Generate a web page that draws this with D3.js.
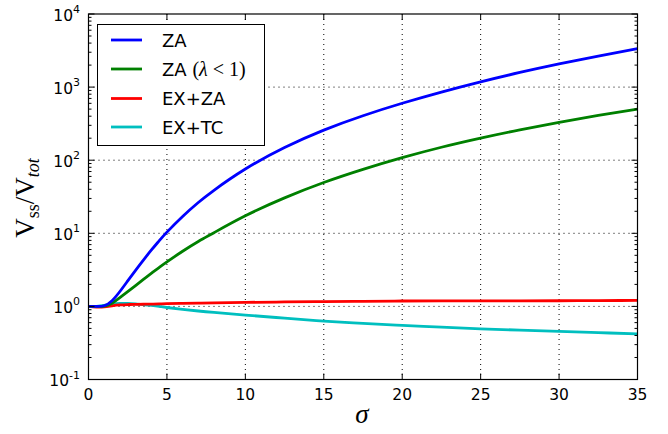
<!DOCTYPE html>
<html>
<head>
<meta charset="utf-8">
<script src="https://cdn.jsdelivr.net/npm/d3@7"></script>
<style>
  html, body { margin: 0; padding: 0; background: #fff; }
  svg { display: block; }
</style>
</head>
<body>
<svg id="chart" width="668" height="434" font-family="DejaVu Sans, sans-serif"></svg>
<script>
// sigma sample points and the volume ratio for each model
const sigma  = [0, 0.5, 1, 1.5, 2, 2.5, 3, 3.5, 4, 4.5, 5, 6, 7, 8, 10, 12.5, 15, 17.5, 20, 22.5, 25, 27.5, 30, 32.5, 35];
const za     = [1, 1, 1.02, 1.198, 1.598, 2.232, 3.117, 4.30, 5.87, 7.87, 10.38, 17.0, 26.4, 38.8, 75.7, 149, 258, 406, 601, 855, 1180, 1585, 2075, 2660, 3350];
const zaLam  = [1, 1, 1.01, 1.107, 1.315, 1.591, 1.93, 2.339, 2.825, 3.396, 4.06, 5.68, 7.72, 10.2, 17.36, 30.5, 49.5, 74.9, 108.3, 150.3, 200.4, 259.8, 328.9, 409.3, 500.6];
const exZa   = [1, 0.98, 0.985, 1.02, 1.05, 1.06, 1.065, 1.07, 1.075, 1.08, 1.09, 1.10, 1.11, 1.12, 1.135, 1.15, 1.165, 1.175, 1.185, 1.19, 1.19, 1.19, 1.195, 1.2, 1.21];
const exTc   = [1, 1, 1.03, 1.08, 1.1, 1.1, 1.08, 1.055, 1.03, 1.0, 0.966, 0.912, 0.865, 0.826, 0.762, 0.69, 0.63, 0.586, 0.55, 0.519, 0.494, 0.473, 0.454, 0.437, 0.422];

const seriesNames = ["ZA", "ZA (λ<1)", "EX+ZA", "EX+TC"];
const seriesColors = ["#0000ff", "#008000", "#ff0000", "#00bfbf"];
const seriesValues = [za, zaLam, exZa, exTc];

const xTicks = [0, 5, 10, 15, 20, 25, 30, 35];
const yExponents = [-1, 0, 1, 2, 3, 4];

const svg = d3.select("#chart");
const pL = 88.5, pR = 637.5, pT = 14, pB = 379.5;
const serif = "Liberation Serif, DejaVu Serif, serif";

const x = d3.scaleLinear().domain([0, 35]).range([pL, pR]);
const y = d3.scaleLog().domain([0.1, 1e4]).range([pB, pT]);

// dotted grid
const grid = svg.append("g").attr("stroke", "#000").attr("stroke-width", 1)
  .attr("stroke-dasharray", "1,4");
xTicks.slice(1, -1).forEach(t => {
  grid.append("line").attr("x1", x(t)).attr("x2", x(t)).attr("y1", pT).attr("y2", pB);
});
yExponents.slice(1, -1).forEach(e => {
  grid.append("line").attr("x1", pL).attr("x2", pR).attr("y1", y(10 ** e)).attr("y2", y(10 ** e));
});

// curves
svg.append("clipPath").attr("id", "clip")
  .append("rect").attr("x", pL).attr("y", pT).attr("width", pR - pL).attr("height", pB - pT);
const plot = svg.append("g").attr("clip-path", "url(#clip)");
const line = d3.line().x(d => x(d[0])).y(d => y(d[1])).curve(d3.curveNatural);
// draw in reverse order so ZA ends on top
[3, 2, 1, 0].forEach(i => {
  plot.append("path")
    .datum(sigma.map((s, k) => [s, seriesValues[i][k]]))
    .attr("d", line)
    .attr("fill", "none")
    .attr("stroke", seriesColors[i])
    .attr("stroke-width", 2.8)
    .attr("stroke-linejoin", "round");
});

// frame
svg.append("rect").attr("x", pL).attr("y", pT).attr("width", pR - pL).attr("height", pB - pT)
  .attr("fill", "none").attr("stroke", "#000").attr("stroke-width", 1.2);

// ticks (inward on all sides)
const ticks = svg.append("g").attr("stroke", "#000").attr("stroke-width", 1);
xTicks.forEach(t => {
  ticks.append("line").attr("x1", x(t)).attr("x2", x(t)).attr("y1", pB).attr("y2", pB - 6);
  ticks.append("line").attr("x1", x(t)).attr("x2", x(t)).attr("y1", pT).attr("y2", pT + 6);
});
yExponents.forEach((e, idx) => {
  const v = 10 ** e;
  ticks.append("line").attr("x1", pL).attr("x2", pL + 6).attr("y1", y(v)).attr("y2", y(v));
  ticks.append("line").attr("x1", pR).attr("x2", pR - 6).attr("y1", y(v)).attr("y2", y(v));
  if (idx < yExponents.length - 1) {
    for (let m = 2; m <= 9; m++) {
      const yy = y(m * v);
      ticks.append("line").attr("x1", pL).attr("x2", pL + 3).attr("y1", yy).attr("y2", yy);
      ticks.append("line").attr("x1", pR).attr("x2", pR - 3).attr("y1", yy).attr("y2", yy);
    }
  }
});

// tick labels
xTicks.forEach(t => {
  svg.append("text").attr("x", x(t)).attr("y", pB + 20)
    .attr("text-anchor", "middle").attr("font-size", 15.5).attr("fill", "#000").text(t);
});
yExponents.forEach(e => {
  const t = svg.append("text").attr("x", 80).attr("y", y(10 ** e) + 6.5)
    .attr("text-anchor", "end").attr("font-size", 15.5).attr("fill", "#000");
  t.append("tspan").text("10");
  t.append("tspan").attr("dy", -7.5).attr("font-size", 11).text(e);
});

// axis labels
svg.append("text").attr("x", 362).attr("y", 423).attr("text-anchor", "middle")
  .attr("font-family", serif).attr("font-style", "italic").attr("font-size", 27)
  .attr("fill", "#000").text("σ");

const yl = svg.append("text")
  .attr("transform", "translate(34,198) rotate(-90)")
  .attr("text-anchor", "middle")
  .attr("font-family", serif).attr("font-size", 27).attr("fill", "#000");
yl.append("tspan").text("V");
yl.append("tspan").attr("dy", 5).attr("font-size", 18).text("ss");
yl.append("tspan").attr("dy", -5).text("/V");
yl.append("tspan").attr("dy", 5).attr("font-size", 18).attr("font-style", "italic").text("tot");

// legend
const lg = svg.append("g");
lg.append("rect").attr("x", 97.5).attr("y", 24.5).attr("width", 167).attr("height", 121)
  .attr("fill", "#fff").attr("stroke", "#000").attr("stroke-width", 1);
const rowY = [40, 69, 98.5, 127];
seriesNames.forEach((name, i) => {
  lg.append("line").attr("x1", 111).attr("x2", 142).attr("y1", rowY[i]).attr("y2", rowY[i])
    .attr("stroke", seriesColors[i]).attr("stroke-width", 2.8);
  const t = lg.append("text").attr("x", 162).attr("y", rowY[i] + 6.5)
    .attr("font-size", 18).attr("fill", "#000");
  if (name.includes("λ")) {
    t.append("tspan").text("ZA ");
    const m = t.append("tspan").attr("font-family", serif).attr("font-size", 20);
    m.append("tspan").text("(");
    m.append("tspan").attr("font-style", "italic").text("λ");
    m.append("tspan").text(" < 1)");
  } else {
    t.text(name);
  }
});
</script>
</body>
</html>
